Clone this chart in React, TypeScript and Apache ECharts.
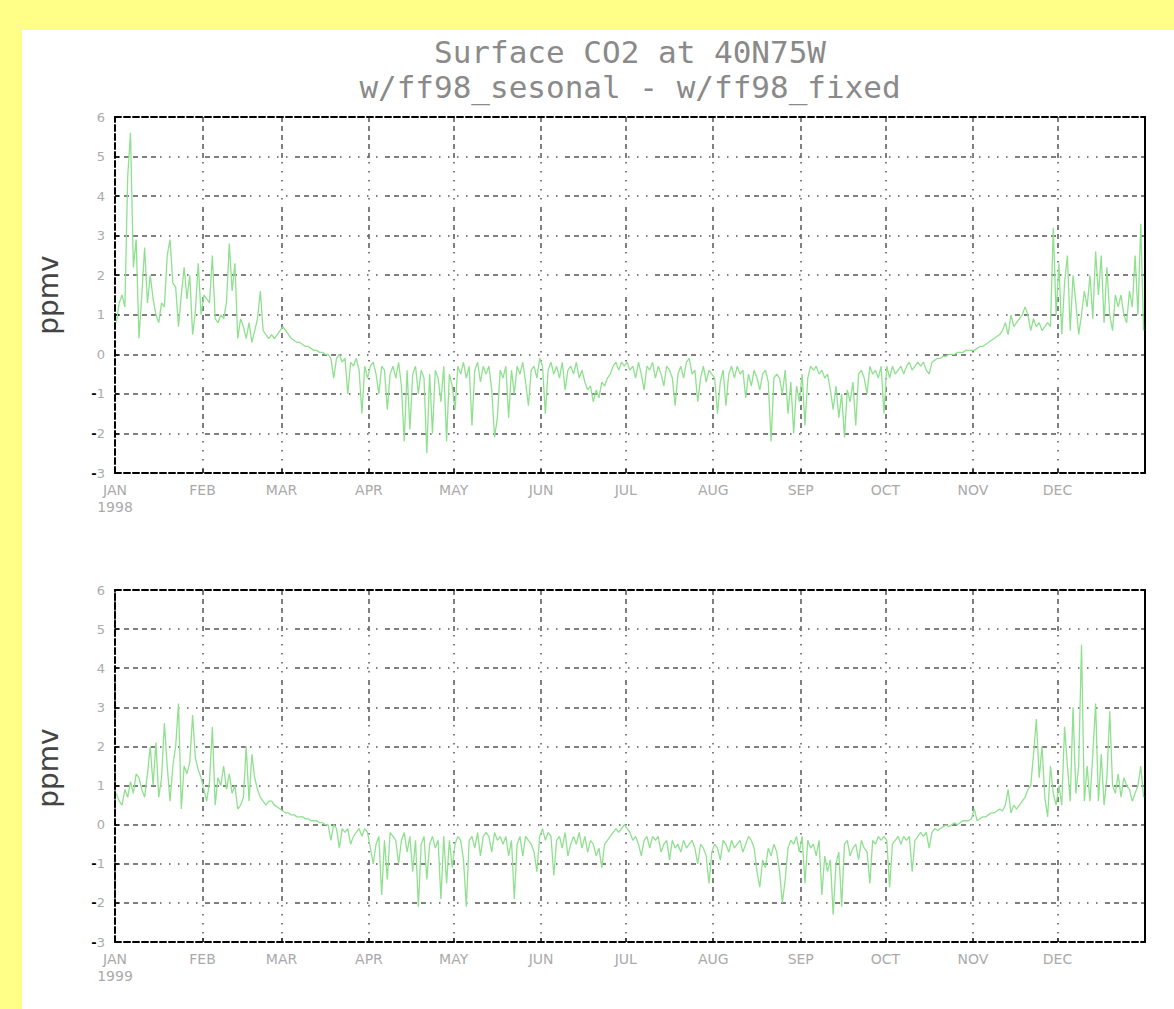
import React, { useEffect, useRef } from "react";
import * as echarts from "echarts";

const MONTHS = ["JAN", "FEB", "MAR", "APR", "MAY", "JUN", "JUL", "AUG", "SEP", "OCT", "NOV", "DEC"];
const MONTH_START_DAYS = [0, 31, 59, 90, 120, 151, 181, 212, 243, 273, 304, 334];
const YEARS = ["1998", "1999"];
const Y_MIN = -3;
const Y_MAX = 6;

// 1998 daily values (ppmv)
const jan98 = [0.8, 1.3, 1.5, 1.2, 4.5, 5.6, 2.2, 2.9, 0.4, 1.5, 2.7, 1.3, 2.0, 1.4, 1.0, 0.8, 1.3, 1.2, 2.5, 2.9, 1.8, 1.7, 0.7, 1.5, 2.2, 1.4, 2.0, 0.5, 1.1, 2.3, 1.0];
const feb98 = [1.5, 1.4, 1.3, 2.5, 0.9, 0.8, 1.0, 0.9, 1.3, 2.8, 1.6, 2.3, 0.4, 0.9, 0.7, 0.4, 0.8, 0.3, 0.6, 0.9, 1.6, 0.6, 0.5, 0.4, 0.5, 0.4, 0.5, 0.6];
const mar98 = [0.7, 0.6, 0.5, 0.4, 0.35, 0.3, 0.3, 0.25, 0.2, 0.2, 0.15, 0.1, 0.1, 0.05, 0.05, 0.0, 0.0, -0.1, -0.6, -0.1, 0.0, -0.2, -0.1, -1.0, -0.2, -0.3, -0.1, -0.4, -1.5, -0.3, -0.6];
const apr98 = [-0.3, -0.2, -0.5, -1.0, -0.3, -0.4, -1.4, -0.5, -0.3, -0.6, -0.2, -0.8, -2.2, -0.4, -1.9, -0.5, -0.3, -1.0, -0.4, -0.6, -2.5, -0.5, -2.0, -0.4, -0.6, -1.2, -0.3, -2.2, -0.5, -0.8];
const may98 = [-1.4, -0.3, -0.5, -0.2, -0.6, -0.3, -1.8, -0.4, -0.2, -0.7, -0.3, -0.5, -0.3, -0.9, -2.1, -1.6, -0.4, -0.6, -0.3, -1.6, -0.4, -1.0, -0.3, -0.5, -0.2, -0.7, -1.3, -0.4, -0.3, -0.6, -0.1];
const jun98 = [-0.3, -1.5, -0.4, -0.2, -0.5, -0.3, -0.6, -0.2, -0.9, -0.4, -0.3, -0.5, -0.2, -0.6, -0.4, -0.7, -0.9, -0.8, -1.2, -0.9, -1.1, -0.7, -0.8, -0.6, -0.5, -0.3, -0.2, -0.4, -0.2, -0.3];
const jul98 = [-0.2, -0.4, -0.3, -0.6, -0.2, -0.5, -0.9, -0.3, -0.4, -0.2, -0.6, -0.3, -0.5, -0.8, -0.3, -0.4, -0.6, -1.3, -0.5, -0.3, -0.6, -0.2, -0.1, -0.5, -0.4, -1.2, -0.6, -0.3, -0.7, -0.4, -0.5];
const aug98 = [-0.6, -1.5, -0.7, -0.4, -1.3, -0.5, -0.3, -0.6, -0.3, -0.5, -0.4, -1.1, -0.5, -0.8, -0.4, -0.6, -0.9, -0.5, -0.4, -0.7, -2.2, -0.6, -0.5, -0.6, -1.0, -0.4, -1.5, -0.7, -2.0, -0.8, -1.2];
const sep98 = [-0.5, -1.8, -0.6, -0.3, -0.4, -0.3, -0.5, -0.4, -0.6, -0.5, -0.9, -1.4, -0.8, -1.6, -1.0, -2.1, -0.9, -1.2, -0.7, -1.8, -0.5, -0.4, -0.6, -1.0, -0.3, -0.5, -0.4, -0.6, -0.3, -1.5];
const oct98 = [-0.3, -0.6, -0.3, -0.5, -0.4, -0.3, -0.5, -0.3, -0.2, -0.4, -0.3, -0.2, -0.3, -0.2, -0.4, -0.5, -0.2, -0.15, -0.1, -0.1, -0.05, -0.05, 0.0, 0.0, 0.0, 0.05, 0.05, 0.05, 0.1, 0.1, 0.1];
const nov98 = [0.1, 0.15, 0.2, 0.2, 0.25, 0.3, 0.35, 0.4, 0.45, 0.5, 0.6, 0.8, 0.5, 1.0, 0.7, 0.8, 0.9, 1.0, 1.2, 1.0, 0.6, 0.9, 0.7, 0.8, 0.6, 0.7, 0.8, 0.7, 3.2, 1.0];
const dec98 = [2.3, 0.5, 1.8, 2.5, 0.6, 2.0, 1.3, 0.5, 1.0, 1.6, 1.2, 2.0, 0.9, 2.6, 1.5, 2.5, 0.8, 2.2, 1.0, 0.6, 1.5, 1.2, 1.5, 1.0, 0.8, 1.6, 1.2, 2.5, 1.0, 3.3, 0.6];

// 1999 daily values (ppmv)
const jan99 = [0.8, 0.6, 0.5, 0.9, 0.7, 1.1, 0.8, 1.3, 1.2, 0.9, 0.7, 1.3, 2.0, 1.0, 2.1, 0.7, 1.2, 2.6, 1.5, 0.6, 1.5, 2.0, 3.1, 0.4, 1.5, 1.3, 1.6, 2.8, 1.7, 1.4, 1.2];
const feb99 = [0.9, 0.6, 1.1, 2.5, 0.5, 1.2, 1.0, 1.5, 0.9, 1.3, 0.8, 1.0, 0.4, 0.5, 0.7, 2.0, 0.6, 1.8, 1.2, 0.9, 0.7, 0.6, 0.5, 0.6, 0.6, 0.5, 0.45, 0.4];
const mar99 = [0.35, 0.3, 0.3, 0.25, 0.25, 0.2, 0.2, 0.2, 0.15, 0.15, 0.1, 0.1, 0.1, 0.05, 0.05, 0.0, 0.0, -0.4, 0.0, -0.1, -0.6, -0.1, -0.2, -0.1, -0.5, -0.3, -0.2, -0.1, -0.3, -0.1, -0.2];
const apr99 = [-0.6, -1.0, -0.5, -0.3, -1.8, -0.4, -1.4, -0.2, -0.3, -0.4, -1.0, -0.4, -0.2, -0.7, -0.3, -1.2, -0.4, -2.1, -0.5, -0.3, -1.4, -0.5, -0.3, -0.6, -0.4, -1.9, -0.3, -1.5, -0.4, -1.1];
const may99 = [-0.5, -0.3, -0.4, -0.9, -2.1, -0.4, -0.3, -0.6, -0.2, -0.8, -0.3, -0.2, -0.3, -0.7, -0.2, -0.4, -0.3, -0.5, -0.3, -0.8, -0.4, -1.9, -0.5, -0.3, -0.8, -0.3, -0.4, -0.5, -0.7, -1.2, -0.3];
const jun99 = [-0.1, -0.4, -0.2, -0.3, -1.3, -0.4, -0.3, -0.6, -0.2, -0.8, -0.5, -0.3, -0.5, -0.2, -0.6, -0.3, -0.7, -0.4, -0.5, -0.8, -0.6, -1.1, -0.5, -0.4, -0.3, -0.2, -0.1, -0.2, -0.1, 0.0];
const jul99 = [-0.1, -0.2, -0.4, -0.3, -0.5, -0.8, -0.4, -0.3, -0.6, -0.3, -0.4, -0.3, -0.7, -0.5, -0.4, -0.9, -0.4, -0.6, -0.5, -0.7, -0.4, -0.6, -0.5, -0.4, -0.6, -1.0, -0.5, -0.6, -0.8, -1.5, -0.7];
const aug99 = [-0.5, -0.6, -0.9, -0.4, -0.5, -0.7, -0.4, -0.6, -0.5, -0.4, -0.7, -0.5, -0.3, -0.4, -0.6, -1.2, -1.6, -0.9, -1.1, -0.6, -0.8, -0.5, -0.7, -1.2, -2.0, -1.4, -0.6, -0.4, -0.5, -0.3, -0.7];
const sep99 = [-0.3, -1.5, -0.4, -0.6, -0.5, -0.8, -0.4, -1.8, -0.8, -1.2, -0.9, -2.3, -1.0, -0.7, -2.1, -0.5, -0.4, -0.8, -0.6, -0.5, -0.9, -0.4, -0.6, -0.7, -1.5, -0.4, -0.5, -0.3, -0.4, -0.3];
const oct99 = [-0.4, -1.6, -0.5, -0.4, -0.3, -0.5, -0.3, -0.4, -0.3, -1.2, -0.4, -0.3, -0.2, -0.3, -0.2, -0.6, -0.2, -0.1, -0.15, -0.1, -0.05, 0.0, -0.05, 0.0, 0.05, 0.0, 0.05, 0.1, 0.1, 0.1, 0.15];
const nov99 = [0.4, 0.1, 0.15, 0.2, 0.2, 0.25, 0.3, 0.3, 0.35, 0.4, 0.35, 0.5, 0.9, 0.3, 0.5, 0.4, 0.5, 0.6, 0.7, 0.9, 1.0, 1.8, 2.7, 1.2, 2.0, 0.7, 0.2, 1.5, 0.8, 0.5];
const dec99 = [1.0, 0.5, 2.5, 1.5, 0.6, 3.0, 0.8, 1.5, 4.6, 0.6, 1.5, 0.6, 1.8, 3.1, 0.6, 1.8, 0.5, 1.2, 2.9, 1.0, 0.8, 1.3, 0.7, 1.2, 1.0, 0.9, 0.6, 0.8, 1.0, 1.5, 0.7];

const series1998 = [...jan98, ...feb98, ...mar98, ...apr98, ...may98, ...jun98, ...jul98, ...aug98, ...sep98, ...oct98, ...nov98, ...dec98];
const series1999 = [...jan99, ...feb99, ...mar99, ...apr99, ...may99, ...jun99, ...jul99, ...aug99, ...sep99, ...oct99, ...nov99, ...dec99];

const GRID_DASH = [5, 4, 5, 4, 5, 4, 5, 4, 5, 4, 1.5, 7.5, 1.5, 7.5, 1.5, 7.5, 1.5, 7.5, 1.5, 7.5];

export default function App() {
  const ref = useRef<HTMLDivElement>(null);

  useEffect(() => {
    if (!ref.current) return;
    const chart = echarts.init(ref.current, null, { renderer: "svg" });

    const panels = [
      { top: 117, height: 356, data: series1998, year: YEARS[0], labelY: 295 },
      { top: 590, height: 352, data: series1999, year: YEARS[1], labelY: 768 },
    ];

    const grids: any[] = [];
    const xAxes: any[] = [];
    const yAxes: any[] = [];
    const seriesList: any[] = [];

    panels.forEach((p, i) => {
      grids.push({ left: 115, right: 29, top: p.top, height: p.height, containLabel: false });
      // bottom x axis
      xAxes.push({
        type: "value",
        gridIndex: i,
        min: 0,
        max: 365,
        axisLine: { show: true, onZero: false, lineStyle: { color: "#000", width: 2, type: [6, 3] } },
        axisTick: { show: true, inside: true, length: 4, customValues: MONTH_START_DAYS, lineStyle: { color: "#000", width: 1.5 } },
        axisLabel: {
          show: true,
          customValues: MONTH_START_DAYS,
          margin: 8,
          color: "#aaaaaa",
          fontFamily: "DejaVu Sans",
          fontSize: 14,
          lineHeight: 17,
          formatter: (v: number) => {
            const idx = MONTH_START_DAYS.indexOf(Math.round(v));
            const name = idx >= 0 ? MONTHS[idx] : "";
            return idx === 0 ? name + "\n" + p.year : name;
          },
        },
        splitLine: { show: true, lineStyle: { color: "#555", width: 1.5, type: GRID_DASH } },
      });
      // top border
      xAxes.push({
        type: "value",
        gridIndex: i,
        position: "top",
        min: 0,
        max: 365,
        axisLine: { show: true, onZero: false, lineStyle: { color: "#000", width: 2, type: [6, 3] } },
        axisTick: { show: false },
        axisLabel: { show: false },
        splitLine: { show: false },
      });
      yAxes.push({
        type: "value",
        gridIndex: i,
        min: Y_MIN,
        max: Y_MAX,
        interval: 1,
        axisLine: { show: true, onZero: false, lineStyle: { color: "#000", width: 2, type: [6, 3] } },
        axisTick: { show: true, inside: true, length: 4, lineStyle: { color: "#000", width: 1.5 } },
        axisLabel: {
          margin: 10,
          fontFamily: "DejaVu Sans",
          fontSize: 13,
          formatter: (v: number) => (v < 0 ? `{m|-}{d|${-v}}` : `{d|${v}}`),
          rich: {
            m: { color: "#000", fontSize: 13, fontWeight: "bold", fontFamily: "DejaVu Sans" },
            d: { color: "#aaaaaa", fontSize: 13, fontFamily: "DejaVu Sans" },
          },
        },
        splitLine: { show: true, lineStyle: { color: "#555", width: 1.5, type: GRID_DASH } },
      });
      // right border
      yAxes.push({
        type: "value",
        gridIndex: i,
        position: "right",
        min: Y_MIN,
        max: Y_MAX,
        interval: 1,
        axisLine: { show: true, onZero: false, lineStyle: { color: "#000", width: 2 } },
        axisTick: { show: false },
        axisLabel: { show: false },
        splitLine: { show: false },
      });
      seriesList.push({
        type: "line",
        xAxisIndex: i * 2,
        yAxisIndex: i * 2,
        showSymbol: false,
        symbol: "none",
        data: p.data.map((v, d) => [d + 0.5, v]),
        lineStyle: { color: "#8fe08f", width: 1.3 },
        z: 3,
      });
    });

    const titleStyle = {
      textAlign: "center",
      textVerticalAlign: "middle",
      fontSize: 31,
      fontFamily: "DejaVu Sans Mono",
      fontWeight: "normal",
      fill: "#8a8a8a",
    };

    chart.setOption({
      animation: false,
      backgroundColor: "transparent",
      grid: grids,
      xAxis: xAxes,
      yAxis: yAxes,
      series: seriesList,
      graphic: [
        {
          type: "rect",
          z: -10,
          silent: true,
          shape: { x: 22, y: 30, width: 1152, height: 979 },
          style: { fill: "#ffffff" },
        },
        { type: "text", x: 630, y: 52, style: { ...titleStyle, text: "Surface CO2 at 40N75W" } },
        { type: "text", x: 630, y: 87, style: { ...titleStyle, text: "w/ff98_sesonal - w/ff98_fixed" } },
        ...panels.map((p) => ({
          type: "text",
          x: 48,
          y: p.labelY,
          rotation: Math.PI / 2,
          style: {
            text: "ppmv",
            textAlign: "center",
            textVerticalAlign: "middle",
            fontSize: 28,
            fontFamily: "DejaVu Sans",
            fill: "#444",
          },
        })),
      ],
    });

    return () => chart.dispose();
  }, []);

  return (
    <div style={{ position: "fixed", left: 0, top: 0, width: 1174, height: 1009, background: "#ffff88" }}>
      <div ref={ref} style={{ width: 1174, height: 1009 }} />
    </div>
  );
}
